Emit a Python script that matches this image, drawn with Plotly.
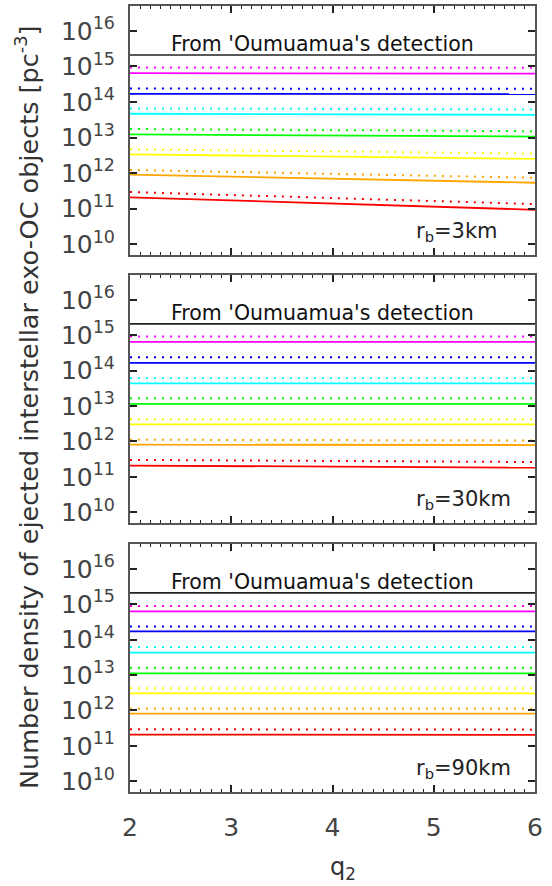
import plotly.graph_objects as go
from plotly.subplots import make_subplots

# q2 endpoints
q2 = [2, 6]

colors = ["#ff0000", "#ffa500", "#ffff00", "#00ff00", "#00ffff", "#0000ff", "#ff00ff"]

# Number density [pc^-3] at q2 = 2 and q2 = 6 (order: red, orange, yellow, green, cyan, blue, magenta)
solid_3km = [[2.09e11, 9.33e10], [9.12e11, 5.37e11], [3.39e12, 2.51e12], [1.23e13, 1.07e13],
             [4.68e13, 4.37e13], [1.70e14, 1.66e14], [6.46e14, 6.31e14]]
dotted_3km = [[2.95e11, 1.35e11], [1.23e12, 7.41e11], [4.68e12, 3.55e12], [1.74e13, 1.51e13],
              [6.61e13, 6.17e13], [2.40e14, 2.34e14], [9.33e14, 9.12e14]]

solid_30km = [[2.09e11, 1.82e11], [8.13e11, 7.94e11], [3.02e12, 3.02e12], [1.15e13, 1.15e13],
              [4.37e13, 4.37e13], [1.66e14, 1.66e14], [6.46e14, 6.46e14]]
dotted_30km = [[3.02e11, 2.63e11], [1.12e12, 1.07e12], [4.27e12, 4.27e12], [1.66e13, 1.66e13],
               [6.17e13, 6.17e13], [2.40e14, 2.40e14], [9.12e14, 9.12e14]]

solid_90km = [[2.09e11, 2.04e11], [8.13e11, 8.13e11], [3.02e12, 3.02e12], [1.12e13, 1.12e13],
              [4.27e13, 4.27e13], [1.70e14, 1.70e14], [6.31e14, 6.31e14]]
dotted_90km = [[2.95e11, 2.88e11], [1.12e12, 1.12e12], [4.27e12, 4.27e12], [1.62e13, 1.62e13],
               [6.17e13, 6.17e13], [2.34e14, 2.34e14], [8.91e14, 8.91e14]]

oumuamua = [2.09e15, 2.09e15]

panel_labels = ["r<sub>b</sub>=3km", "r<sub>b</sub>=30km", "r<sub>b</sub>=90km"]
ytick_vals = [1e10, 1e11, 1e12, 1e13, 1e14, 1e15, 1e16]
ytick_text = ["10<sup>10</sup>", "10<sup>11</sup>", "10<sup>12</sup>", "10<sup>13</sup>",
              "10<sup>14</sup>", "10<sup>15</sup>", "10<sup>16</sup>"]
xtick_vals = [2, 3, 4, 5, 6]

W, H = 552, 886
ml, mr, mt, mb = 130, 17, 6, 94
ph = H - mt - mb
pw = W - ml - mr

def dom(top_px, bot_px):
    return [1 - (bot_px - mt) / ph, 1 - (top_px - mt) / ph]

fig = make_subplots(rows=3, cols=1, shared_xaxes=True)

panels = [(solid_3km, dotted_3km), (solid_30km, dotted_30km), (solid_90km, dotted_90km)]
for i, (sol, dot) in enumerate(panels):
    r = i + 1
    fig.add_trace(go.Scatter(x=q2, y=oumuamua, mode="lines",
                             line=dict(color="#222222", width=1.6), showlegend=False), row=r, col=1)
    for c, s, d in zip(colors, sol, dot):
        fig.add_trace(go.Scatter(x=q2, y=d, mode="lines",
                                 line=dict(color=c, width=2, dash="2px,6px"), showlegend=False), row=r, col=1)
        fig.add_trace(go.Scatter(x=q2, y=s, mode="lines",
                                 line=dict(color=c, width=1.8), showlegend=False), row=r, col=1)

font_main = "DejaVu Sans"
domains = [dom(6, 255), dom(275, 523), dom(544, 792)]
for i in range(3):
    r = i + 1
    fig.update_yaxes(type="log", range=[9.699, 16.699], tickvals=ytick_vals, ticktext=ytick_text,
                     ticks="inside", ticklen=7, tickwidth=1.5, tickcolor="#222",
                     showline=True, linecolor="#555", linewidth=2, mirror="ticks",
                     showgrid=False, zeroline=False, domain=domains[i], automargin=False,
                     tickfont=dict(family=font_main, size=25, color="#444"),
                     ticklabelstandoff=8, row=r, col=1)
    fig.update_xaxes(range=[2, 6], tickvals=xtick_vals, ticks="inside", ticklen=7, tickwidth=1.5,
                     tickcolor="#222", showline=True, linecolor="#555", linewidth=2, mirror="ticks",
                     minor=dict(dtick=0.1, tick0=2, ticks="inside", ticklen=3, tickwidth=1, tickcolor="#222"),
                     showgrid=False, zeroline=False, showticklabels=(r == 3), automargin=False,
                     tickfont=dict(family=font_main, size=25, color="#444"),
                     ticklabelstandoff=12, row=r, col=1)
    yref = "y" if r == 1 else f"y{r}"
    xref = "x" if r == 1 else f"x{r}"
    fig.add_annotation(x=3.9, y=15.63, xref=xref, yref=yref, text="From 'Oumuamua's detection",
                       showarrow=False, font=dict(family=font_main, size=20.5, color="#111"),
                       xanchor="center", yanchor="middle")
    fig.add_annotation(x=4.8, y=10.35, xref=xref, yref=yref, text=panel_labels[i],
                       showarrow=False, font=dict(family=font_main, size=21, color="#222"),
                       xanchor="left", yanchor="middle")

fig.add_annotation(x=(27 - ml) / pw, y=1 - (408 - mt) / ph, xref="paper", yref="paper",
                   text="Number density of ejected interstellar exo-OC objects [pc<sup>-3</sup>]",
                   showarrow=False, textangle=-90, font=dict(family=font_main, size=25.5, color="#333"),
                   xanchor="center", yanchor="middle")

fig.add_annotation(x=(343 - ml) / pw, y=1 - (868 - mt) / ph, xref="paper", yref="paper",
                   text="q<sub>2</sub>", showarrow=False,
                   font=dict(family=font_main, size=24, color="#333"),
                   xanchor="center", yanchor="middle")

fig.update_layout(width=W, height=H, margin=dict(l=ml, r=mr, t=mt, b=mb, autoexpand=False),
                  plot_bgcolor="white", paper_bgcolor="white", showlegend=False)

fig.write_html("out.html", config={"displayModeBar": False},
               post_script="document.body.style.margin='0';document.body.style.overflow='hidden';")
